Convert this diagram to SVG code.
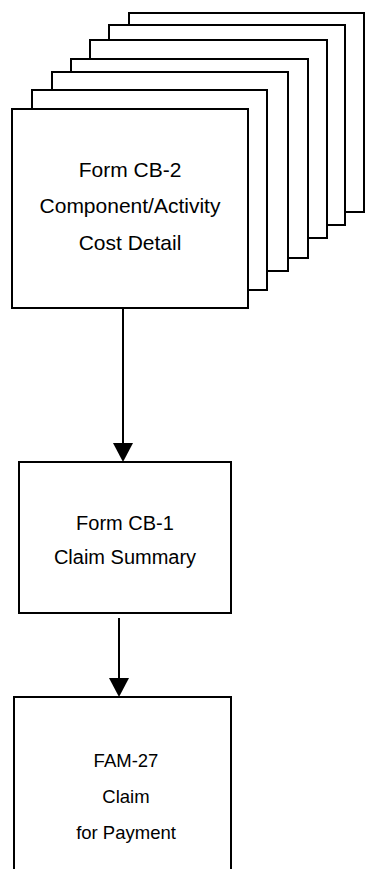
<svg xmlns="http://www.w3.org/2000/svg" width="366" height="869" viewBox="0 0 366 869">
<style>
.sheet{fill:#fff;stroke:#000;stroke-width:2}
.box{fill:#fff;stroke:#000;stroke-width:2}
.lbl{font-family:"Liberation Sans",Arial,sans-serif;font-size:20px;fill:#000;text-anchor:middle}
.big{font-size:21px}
.small{font-size:18.5px}
.conn{stroke:#000;stroke-width:2;fill:none}
</style>
<defs>
<marker id="ah" markerUnits="userSpaceOnUse" markerWidth="20" markerHeight="20" viewBox="0 0 19 20" refX="0" refY="10" orient="auto">
<path d="M0,0 L19,10 L0,20 Z" fill="#000"/>
</marker>
</defs>
<rect width="366" height="869" fill="#fff"/>
<g id="cb2">
<rect class="sheet" x="129" y="13" width="235" height="199"/>
<rect class="sheet" x="109" y="25" width="236" height="200"/>
<rect class="sheet" x="90" y="40" width="237" height="198"/>
<rect class="sheet" x="71" y="59" width="237" height="199"/>
<rect class="sheet" x="52" y="72" width="236" height="199"/>
<rect class="sheet" x="32" y="90" width="235" height="200"/>
<rect class="box" x="12" y="109" width="236" height="199"/>
<text class="lbl big" x="130" y="177">Form CB-2</text>
<text class="lbl big" x="130" y="213">Component/Activity</text>
<text class="lbl big" x="130" y="250">Cost Detail</text>
</g>
<g id="cb1">
<rect class="box" x="19" y="462" width="212" height="151"/>
<text class="lbl" x="125" y="530">Form CB-1</text>
<text class="lbl" x="125" y="564">Claim Summary</text>
</g>
<g id="fam27">
<rect class="box" x="14" y="697" width="217" height="190"/>
<text class="lbl small" x="126" y="767">FAM-27</text>
<text class="lbl small" x="126" y="803">Claim</text>
<text class="lbl small" x="126" y="839">for Payment</text>
</g>
<g id="connectors">
<line class="conn" x1="123" y1="309" x2="123" y2="443" marker-end="url(#ah)"/>
<line class="conn" x1="119" y1="618" x2="119" y2="678" marker-end="url(#ah)"/>
</g>
</svg>
